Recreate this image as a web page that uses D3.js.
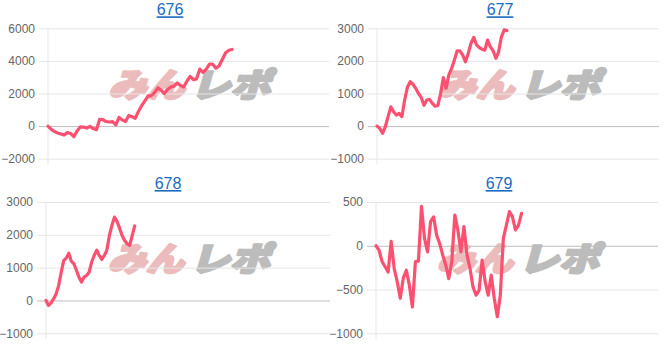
<!DOCTYPE html>
<html lang="ja">
<head>
<meta charset="UTF-8">
<title>676-679</title>
<script src="https://cdn.jsdelivr.net/npm/d3@7"></script>
<style>
  body { margin: 0; background: #fff; }
  .tick-label { font: 12px "Liberation Sans", Arial, sans-serif; fill: #666; }
  .title { font: 16px "Liberation Sans", Arial, sans-serif; fill: #1a6cc0; text-decoration: underline; }
</style>
</head>
<body>
<script>
// machine numbers shown as panel titles
const titles = ["676", "677", "678", "679"];

// coin difference per point
const data676 = [0, -200, -330, -420, -480, -550, -400, -450, -650, -300, -50, -60, -120, -20, -150, -220,
  420, 400, 280, 250, 270, 80, 530, 380, 280, 650, 580, 480, 900, 1250, 1550, 1850, 1870, 2050, 2350,
  2200, 2000, 2250, 2400, 2450, 2650, 2500, 2400, 2750, 3050, 2850, 2900, 3500, 3300, 3500, 3800, 3800,
  3550, 3700, 4100, 4500, 4650, 4700];
const data677 = [0, -70, -220, -20, 290, 590, 440, 340, 390, 290, 800, 1190, 1360, 1290, 1160, 1000, 880,
  640, 800, 820, 700, 610, 630, 1000, 1490, 1160, 1570, 1770, 2030, 2310, 2310, 2180, 1970, 2230, 2540,
  2720, 2490, 2410, 2360, 2330, 2640, 2430, 2310, 2080, 2280, 2740, 2950, 2930];
const data678 = [0, -150, -70, 50, 200, 460, 860, 1220, 1290, 1440, 1190, 1120, 920, 710, 560, 710, 760,
  860, 1170, 1370, 1530, 1370, 1250, 1370, 1530, 1980, 2290, 2540, 2410, 2210, 1980, 1830, 1730, 1680,
  1980, 2270];
const data679 = [0, -50, -180, -240, -300, 50, -260, -410, -600, -370, -280, -450, -700, -180, -175, 450,
  85, -70, 275, 330, 120, 25, -105, -220, -375, -180, 350, 180, -70, 220, -105, -260, -470, -565, -510,
  -165, -410, -565, -335, -600, -810, -565, 85, 235, 390, 330, 180, 235, 370];

// how many x slots each chart has in total
const xSlots = [87, 102, 112, 93];

// y tick values
const ticks676 = [-2000, 0, 2000, 4000, 6000];
const ticks677 = [-1000, 0, 1000, 2000, 3000];
const ticks678 = [-1000, 0, 1000, 2000, 3000];
const ticks679 = [-1000, -500, 0, 500];

const series = [data676, data677, data678, data679];
const yTicks = [ticks676, ticks677, ticks678, ticks679];

// panel boxes (plot area)
const boxes = [
  { left: 48, right: 329, top: 28.3, bottom: 158.7, cx: 170 },
  { left: 377, right: 659, top: 28.3, bottom: 158.7, cx: 500 },
  { left: 46, right: 330, top: 202, bottom: 333.3, cx: 168 },
  { left: 376, right: 658, top: 202, bottom: 333.3, cx: 499 }
];

const svg = d3.select("body").append("svg")
  .attr("width", 669)
  .attr("height", 344);

series.forEach((vals, i) => {
  const b = boxes[i];
  const tks = yTicks[i];
  const g = svg.append("g");

  const x = d3.scaleLinear().domain([0, xSlots[i]]).range([b.left, b.right]);
  const y = d3.scaleLinear().domain(d3.extent(tks)).range([b.bottom, b.top]);

  // title
  g.append("text")
    .attr("class", "title")
    .attr("x", b.cx)
    .attr("y", b.top - 13)
    .attr("text-anchor", "middle")
    .text(titles[i]);

  // watermark
  const wmY = (b.top - 28.3) + 97;
  const wmX = (b.left + b.right) / 2;
  const wm = g.append("g").attr("transform", `translate(${wmX},${wmY}) skewX(-16)`);
  wm.append("text")
    .attr("x", -80).attr("y", 0)
    .attr("textLength", 76).attr("lengthAdjust", "spacingAndGlyphs")
    .style("font", "900 33px 'Noto Sans CJK JP'")
    .attr("fill", "#ecbcbc")
    .attr("stroke", "#ecbcbc")
    .attr("stroke-width", 2.5)
    .attr("stroke-linejoin", "round")
    .text("みん");
  wm.append("text")
    .attr("x", 2).attr("y", 0)
    .attr("textLength", 80).attr("lengthAdjust", "spacingAndGlyphs")
    .style("font", "900 33px 'Noto Sans CJK JP'")
    .attr("fill", "#bcbcbc")
    .attr("stroke", "#bcbcbc")
    .attr("stroke-width", 2.5)
    .attr("stroke-linejoin", "round")
    .text("レポ");

  // y axis with gridlines
  const axis = g.append("g")
    .attr("transform", `translate(${b.left},0)`)
    .call(d3.axisLeft(y).tickValues(tks).tickSize(-(b.right - b.left)).tickPadding(13).tickFormat(d3.format("d")));
  axis.select(".domain").remove();
  axis.selectAll(".tick line")
    .attr("x1", -9)
    .attr("stroke", d => d === 0 ? "#bdbdbd" : "#e6e6e6");
  axis.selectAll(".tick text").attr("class", "tick-label").attr("fill", null);

  // vertical axis line
  g.append("line")
    .attr("x1", b.left).attr("x2", b.left)
    .attr("y1", b.top).attr("y2", b.bottom + 6)
    .attr("stroke", "#e6e6e6");

  // the line
  const line = d3.line()
    .x((d, j) => x(j))
    .y(d => y(d));
  g.append("path")
    .datum(vals)
    .attr("d", line)
    .attr("fill", "none")
    .attr("stroke", "#fb5070")
    .attr("stroke-width", 3.2)
    .attr("stroke-linejoin", "round")
    .attr("stroke-linecap", "round");
});
</script>
</body>
</html>
